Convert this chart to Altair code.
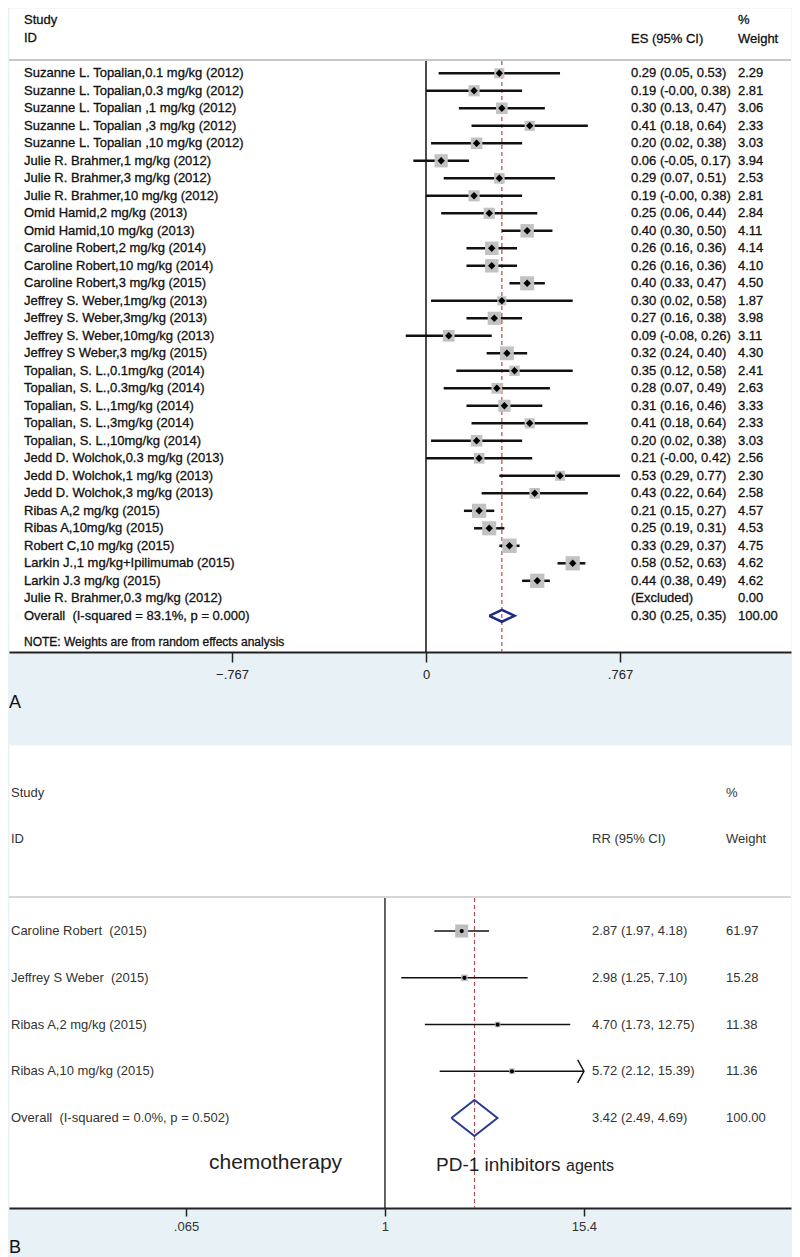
import altair as alt
import pandas as pd

FONT = "Liberation Sans"
NB = "\u00a0"

# ---------------- Panel A data ----------------
a_labels = [
    "Suzanne L. Topalian,0.1 mg/kg (2012)",
    "Suzanne L. Topalian,0.3 mg/kg (2012)",
    "Suzanne L. Topalian ,1 mg/kg (2012)",
    "Suzanne L. Topalian ,3 mg/kg (2012)",
    "Suzanne L. Topalian ,10 mg/kg (2012)",
    "Julie R. Brahmer,1 mg/kg (2012)",
    "Julie R. Brahmer,3 mg/kg (2012)",
    "Julie R. Brahmer,10 mg/kg (2012)",
    "Omid Hamid,2 mg/kg (2013)",
    "Omid Hamid,10 mg/kg (2013)",
    "Caroline Robert,2 mg/kg (2014)",
    "Caroline Robert,10 mg/kg (2014)",
    "Caroline Robert,3 mg/kg (2015)",
    "Jeffrey S. Weber,1mg/kg (2013)",
    "Jeffrey S. Weber,3mg/kg (2013)",
    "Jeffrey S. Weber,10mg/kg (2013)",
    "Jeffrey S Weber,3 mg/kg (2015)",
    "Topalian, S. L.,0.1mg/kg (2014)",
    "Topalian, S. L.,0.3mg/kg (2014)",
    "Topalian, S. L.,1mg/kg (2014)",
    "Topalian, S. L.,3mg/kg (2014)",
    "Topalian, S. L.,10mg/kg (2014)",
    "Jedd D. Wolchok,0.3 mg/kg (2013)",
    "Jedd D. Wolchok,1 mg/kg (2013)",
    "Jedd D. Wolchok,3 mg/kg (2013)",
    "Ribas A,2 mg/kg (2015)",
    "Ribas A,10mg/kg (2015)",
    "Robert C,10 mg/kg (2015)",
    "Larkin J.,1 mg/kg+Ipilimumab (2015)",
    "Larkin J.3 mg/kg (2015)",
    "Julie R. Brahmer,0.3 mg/kg (2012)",
]
a_es = [0.29, 0.19, 0.30, 0.41, 0.20, 0.06, 0.29, 0.19, 0.25, 0.40, 0.26, 0.26, 0.40, 0.30, 0.27,
        0.09, 0.32, 0.35, 0.28, 0.31, 0.41, 0.20, 0.21, 0.53, 0.43, 0.21, 0.25, 0.33, 0.58, 0.44, None]
a_lo = [0.05, -0.00, 0.13, 0.18, 0.02, -0.05, 0.07, -0.00, 0.06, 0.30, 0.16, 0.16, 0.33, 0.02, 0.16,
        -0.08, 0.24, 0.12, 0.07, 0.16, 0.18, 0.02, -0.00, 0.29, 0.22, 0.15, 0.19, 0.29, 0.52, 0.38, None]
a_hi = [0.53, 0.38, 0.47, 0.64, 0.38, 0.17, 0.51, 0.38, 0.44, 0.50, 0.36, 0.36, 0.47, 0.58, 0.38,
        0.26, 0.40, 0.58, 0.49, 0.46, 0.64, 0.38, 0.42, 0.77, 0.64, 0.27, 0.31, 0.37, 0.63, 0.49, None]
a_wt = [2.29, 2.81, 3.06, 2.33, 3.03, 3.94, 2.53, 2.81, 2.84, 4.11, 4.14, 4.10, 4.50, 1.87, 3.98,
        3.11, 4.30, 2.41, 2.63, 3.33, 2.33, 3.03, 2.56, 2.30, 2.58, 4.57, 4.53, 4.75, 4.62, 4.62, 0.00]
a_overall_label = "Overall" + NB + " (I-squared = 83.1%, p = 0.000)"
a_overall = {"es": 0.30, "lo": 0.25, "hi": 0.35, "wt": 100.00}
A_TICKS = [-0.767, 0.0, 0.767]

# ---------------- Panel B data ----------------
b_labels = [
    "Caroline Robert" + NB + " (2015)",
    "Jeffrey S Weber" + NB + " (2015)",
    "Ribas A,2 mg/kg (2015)",
    "Ribas A,10 mg/kg (2015)",
]
b_rr = [2.87, 2.98, 4.70, 5.72]
b_lo = [1.97, 1.25, 1.73, 2.12]
b_hi = [4.18, 7.10, 12.75, 15.39]
b_wt = [61.97, 15.28, 11.38, 11.36]
b_overall_label = "Overall" + NB + " (I-squared = 0.0%, p = 0.502)"
b_overall = {"es": 3.42, "lo": 2.49, "hi": 4.69, "wt": 100.00}
B_TICKS = [0.065, 1.0, 15.39]


def ci_text(es, lo, hi):
    return f"{es:.2f} ({lo:.2f}, {hi:.2f})"


# ---- tables ----
nA = len(a_labels)
dfA = pd.DataFrame({"label": a_labels, "es": a_es, "lo": a_lo, "hi": a_hi, "wt": a_wt,
                    "row": list(range(1, nA + 1))})
dfA["es_txt"] = [ci_text(e, l, h) if e is not None else "(Excluded)" for e, l, h in zip(a_es, a_lo, a_hi)]
dfA["wt_txt"] = [f"{w:.2f}" for w in a_wt]
ovA = pd.DataFrame({"label": [a_overall_label], "es": [a_overall["es"]], "lo": [a_overall["lo"]],
                    "hi": [a_overall["hi"]], "row": [nA + 1],
                    "es_txt": [ci_text(a_overall["es"], a_overall["lo"], a_overall["hi"])],
                    "wt_txt": [f"{a_overall['wt']:.2f}"]})
txtA = pd.concat([dfA[["label", "es_txt", "wt_txt", "row"]], ovA[["label", "es_txt", "wt_txt", "row"]]])

nB = len(b_labels)
dfB = pd.DataFrame({"label": b_labels, "es": b_rr, "lo": b_lo, "hi": b_hi, "wt": b_wt,
                    "row": list(range(1, nB + 1))})
dfB["es_txt"] = [ci_text(e, l, h) for e, l, h in zip(b_rr, b_lo, b_hi)]
dfB["wt_txt"] = [f"{w:.2f}" for w in b_wt]
ovB = pd.DataFrame({"label": [b_overall_label], "es": [b_overall["es"]], "lo": [b_overall["lo"]],
                    "hi": [b_overall["hi"]], "row": [nB + 1],
                    "es_txt": [ci_text(b_overall["es"], b_overall["lo"], b_overall["hi"])],
                    "wt_txt": [f"{b_overall['wt']:.2f}"]})
txtB = pd.concat([dfB[["label", "es_txt", "wt_txt", "row"]], ovB[["label", "es_txt", "wt_txt", "row"]]])


def diamond(ov, half):
    r = ov["row"].iloc[0]
    es, lo, hi = ov["es"].iloc[0], ov["lo"].iloc[0], ov["hi"].iloc[0]
    return pd.DataFrame({"x": [lo, es, hi, es, lo], "row": [r, r - half, r, r + half, r],
                         "ord": [0, 1, 2, 3, 4]})


def txt(s, x, y, size=13, color="#1a1a1a", **kw):
    return alt.Chart(pd.DataFrame({"t": [s]})).mark_text(
        align="left", baseline="middle", font=FONT, fontSize=size, color=color, **kw
    ).encode(text="t:N", x=alt.value(x), y=alt.value(y))


A_TXT = dict(align="left", baseline="middle", font=FONT, fontSize=13, color="#111",
             stroke="#111", strokeWidth=0.3)

# ---------------- Panel A chart ----------------
WA, HA = 782, 644
xsA = alt.Scale(domain=[-1.6489, 1.4433], nice=False, zero=False)
axA = alt.Axis(values=A_TICKS, grid=False, title=None, tickSize=10, tickWidth=1.5, tickColor="#222",
               domainColor="#222", domainWidth=2, labelFont=FONT, labelFontSize=13, labelColor="#222",
               labelPadding=6,
               labelExpr="datum.value == 0 ? '0' : replace(format(datum.value, '.3f'), '0.', '.')")
ysA = alt.Scale(domain=[-2.7314, 34.0686], reverse=True, nice=False, zero=False)
yA = alt.Y("row:Q", scale=ysA, axis=None)

sep_ruleA = alt.Chart(pd.DataFrame({"t": [0]})).mark_rule(color="#b5b5b5", strokeWidth=1.5).encode(
    x=alt.value(0), x2=alt.value(WA), y=alt.value(52))
nullA = alt.Chart(pd.DataFrame({"v": [0.0]})).mark_rule(color="#111", strokeWidth=1.5).encode(
    x=alt.X("v:Q", scale=xsA, axis=axA), y=alt.value(53), y2=alt.value(HA))
dashA = alt.Chart(ovA).mark_rule(color="#b8474a", strokeWidth=1.2, strokeDash=[4, 3]).encode(
    x=alt.X("es:Q", scale=xsA, axis=axA), y=alt.value(53), y2=alt.value(HA))
ciA = alt.Chart(dfA).transform_filter("isValid(datum.es)").transform_calculate(
    hi_c=f"min(datum.hi, {max(A_TICKS)})").mark_rule(color="#111", strokeWidth=2.5).encode(
    x=alt.X("lo:Q", scale=xsA, axis=axA), x2="hi_c:Q", y=yA)
sqA = alt.Chart(dfA).transform_filter("isValid(datum.es)").mark_point(
    shape="square", filled=True, color="#c2c2c2", opacity=1).encode(
    x=alt.X("es:Q", scale=xsA, axis=axA), y=yA,
    size=alt.Size("wt:Q", scale=alt.Scale(domain=[0, 5], range=[0, 220]), legend=None))
dotA = alt.Chart(dfA).transform_filter("isValid(datum.es)").mark_point(
    shape="diamond", filled=True, color="#000", opacity=1, size=55).encode(
    x=alt.X("es:Q", scale=xsA, axis=axA), y=yA)
diaA = alt.Chart(diamond(ovA, 0.34)).mark_line(color="#1f2a80", strokeWidth=2.5).encode(
    x=alt.X("x:Q", scale=xsA, axis=axA), y=yA, order="ord:Q")
labA = alt.Chart(txtA).mark_text(**A_TXT).encode(x=alt.value(15), y=yA, text="label:N")
esA = alt.Chart(txtA).mark_text(**A_TXT).encode(x=alt.value(622), y=yA, text="es_txt:N")
wtA = alt.Chart(txtA).mark_text(**A_TXT).encode(x=alt.value(729), y=yA, text="wt_txt:N")

hA = dict(color="#111", stroke="#111", strokeWidth=0.3)
chartA = alt.layer(
    sep_ruleA, nullA, dashA, ciA, sqA, dotA, diaA, labA, esA, wtA,
    txt("Study", 15, 12, **hA), txt("ID", 15, 30, **hA),
    txt("%", 729, 12, **hA), txt("ES (95% CI)", 622, 31, **hA), txt("Weight", 729, 31, **hA),
    txt("NOTE: Weights are from random effects analysis", 15, 634, size=12, **hA),
    txt("A", 0, 695, size=18, color="#111"),
).properties(width=WA, height=HA)

# ---------------- Panel B chart ----------------
WB, HB = 782, 463
xsB = alt.Scale(type="log", domain=[0.005712, 264.6], nice=False)
axB = alt.Axis(values=B_TICKS, grid=False, title=None, tickSize=8, tickWidth=1.5, tickColor="#222",
               domainColor="#222", domainWidth=2, labelFont=FONT, labelFontSize=13, labelColor="#333",
               labelPadding=4,
               labelExpr="replace(format(datum.value, '.3~g'), '0.', '.')")
ysB = alt.Scale(domain=[-2.979, 6.925], reverse=True, nice=False, zero=False)
yB = alt.Y("row:Q", scale=ysB, axis=None)
CLIP_B = max(B_TICKS)

sep_ruleB = alt.Chart(pd.DataFrame({"t": [0]})).mark_rule(color="#c8c8c8", strokeWidth=1.5).encode(
    x=alt.value(0), x2=alt.value(WB), y=alt.value(152))
nullB = alt.Chart(pd.DataFrame({"v": [1.0]})).mark_rule(color="#111", strokeWidth=1.3).encode(
    x=alt.X("v:Q", scale=xsB, axis=axB), y=alt.value(153), y2=alt.value(HB))
dashB = alt.Chart(ovB).mark_rule(color="#b8474a", strokeWidth=1.1, strokeDash=[4, 3]).encode(
    x=alt.X("es:Q", scale=xsB, axis=axB), y=alt.value(153), y2=alt.value(HB))
ciB = alt.Chart(dfB).transform_calculate(hi_c=f"min(datum.hi, {CLIP_B})").mark_rule(
    color="#111", strokeWidth=1.5).encode(x=alt.X("lo:Q", scale=xsB, axis=axB), x2="hi_c:Q", y=yB)
arrowB = alt.Chart(dfB).transform_filter(f"datum.hi >= {CLIP_B}").transform_calculate(
    hi_c=f"min(datum.hi, {CLIP_B})").mark_point(
    shape="M-0.55,-1L0,0L-0.55,1", filled=False, color="#111", strokeWidth=1.5, size=530, opacity=1).encode(
    x=alt.X("hi_c:Q", scale=xsB, axis=axB), y=yB)
sqB = alt.Chart(dfB).mark_point(shape="square", filled=True, color="#bdbdbd", opacity=1).encode(
    x=alt.X("es:Q", scale=xsB, axis=axB), y=yB,
    size=alt.Size("wt:Q", scale=alt.Scale(domain=[0, 100], range=[0, 273]), legend=None))
dotB = alt.Chart(dfB).mark_point(shape="circle", filled=True, color="#000", opacity=1, size=18).encode(
    x=alt.X("es:Q", scale=xsB, axis=axB), y=yB)
diaB = alt.Chart(diamond(ovB, 0.385)).mark_line(color="#2a3a8c", strokeWidth=2).encode(
    x=alt.X("x:Q", scale=xsB, axis=axB), y=yB, order="ord:Q")
B_TXT = dict(align="left", baseline="middle", font=FONT, fontSize=13, color="#333")
labB = alt.Chart(txtB).mark_text(**B_TXT).encode(x=alt.value(2), y=yB, text="label:N")
esB = alt.Chart(txtB).mark_text(**B_TXT).encode(x=alt.value(583), y=yB, text="es_txt:N")
wtB = alt.Chart(txtB).mark_text(**B_TXT).encode(x=alt.value(717), y=yB, text="wt_txt:N")

chartB = alt.layer(
    sep_ruleB, nullB, dashB, ciB, arrowB, sqB, dotB, diaB, labB, esB, wtB,
    txt("Study", 2, 48, color="#333"), txt("ID", 2, 94, color="#333"),
    txt("%", 717, 48, color="#333"), txt("RR (95% CI)", 583, 94, color="#333"),
    txt("Weight", 717, 94, color="#333"),
    txt("chemotherapy", 200, 418, size=21, color="#222"),
    txt("PD-1 inhibitors", 427, 420, size=19, color="#222"),
    txt("agents", 557, 421, size=16, color="#222"),
    txt("B", 0, 503, size=18, color="#111"),
).properties(width=WB, height=HB)

chart = alt.vconcat(chartA, chartB, spacing=93, bounds="flush").resolve_scale(
    size="independent", x="independent", y="independent"
).properties(
    padding={"left": 0, "top": 0, "right": 0, "bottom": 0}
).configure(background="#e8f1f5").configure_view(fill="white", strokeOpacity=0)

chart.save("out.html", embed_options={"renderer": "svg", "actions": False})
